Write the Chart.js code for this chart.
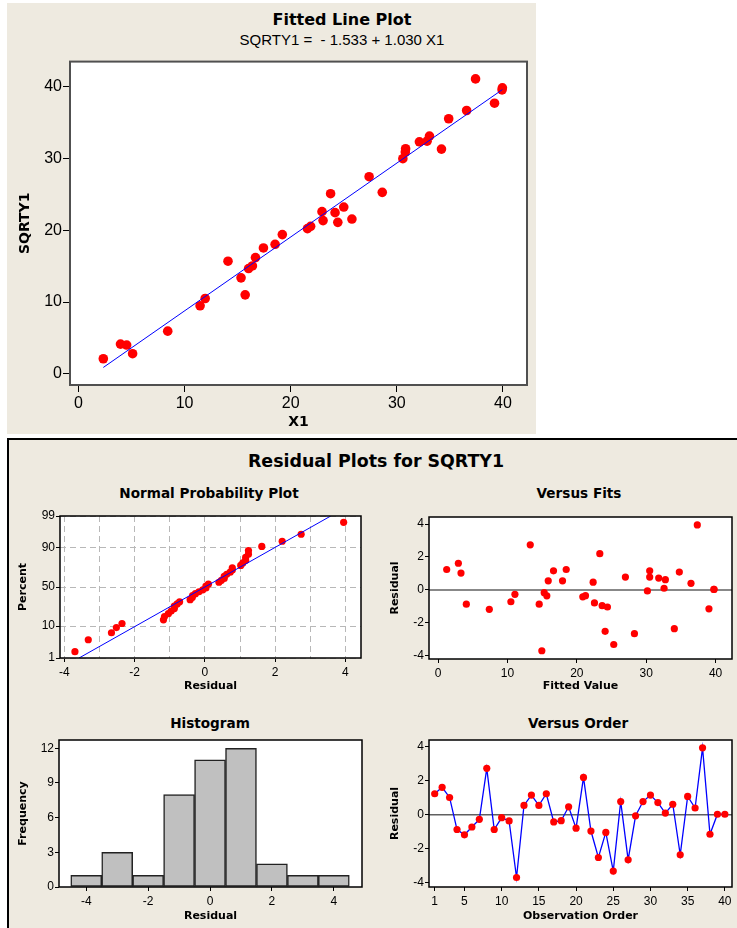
<!DOCTYPE html>
<html>
<head>
<meta charset="utf-8">
<script src="https://cdn.jsdelivr.net/npm/chart.js@4.4.0/dist/chart.umd.min.js"></script>
<style>
  body { margin: 0; background: #fff; }
  #page { position: relative; width: 737px; height: 928px; overflow: hidden; }
  .panel { position: absolute; background: #eeeae0; box-sizing: border-box; }
  .hd { position: absolute; white-space: pre; color: #000; line-height: 1; transform: translateX(-50%); }
  .bold { font-family: "DejaVu Sans", sans-serif; font-weight: bold; }
  .reg { font-family: "Liberation Sans", Arial, sans-serif; }
  canvas { position: absolute; }
</style>
</head>
<body>
<div id="page">
  <div class="panel" style="left:7px;top:3px;width:529px;height:431px;"></div>
  <div class="panel" style="left:7px;top:438px;width:730px;height:490px;border-top:2px solid #000;border-left:2px solid #000;"></div>

  <div class="hd bold" style="left:342px;top:12px;font-size:16px;">Fitted Line Plot</div>
  <div class="hd reg" style="left:342px;top:32px;font-size:15px;">SQRTY1 =  - 1.533 + 1.030 X1</div>
  <div class="hd bold" style="left:376px;top:453px;font-size:17.4px;">Residual Plots for SQRTY1</div>
  <div class="hd bold" style="left:209px;top:487px;font-size:13.6px;">Normal Probability Plot</div>
  <div class="hd bold" style="left:579px;top:487px;font-size:13.6px;">Versus Fits</div>
  <div class="hd bold" style="left:210px;top:717px;font-size:13.6px;">Histogram</div>
  <div class="hd bold" style="left:578px;top:717px;font-size:13.6px;">Versus Order</div>

  <canvas id="fitted"></canvas>
  <canvas id="npp"></canvas>
  <canvas id="vfits"></canvas>
  <canvas id="hist"></canvas>
  <canvas id="vorder"></canvas>
</div>

<script>
// regression: SQRTY1 = b0 + b1 * X1
const intercept = -1.533;
const slope = 1.030;

const x1Values = [2.34, 3.96, 4.54, 5.10, 8.41, 11.46, 11.94, 14.09, 15.32, 15.71,
  16.03, 16.39, 16.68, 17.43, 18.53, 19.21, 21.58, 21.88, 22.95, 23.05,
  23.76, 24.18, 24.44, 25.00, 25.77, 27.39, 28.63, 30.57, 30.80, 30.83,
  32.13, 32.85, 33.08, 34.21, 34.89, 36.58, 37.42, 39.21, 39.92, 39.95];
const sqrty1Values = [2.09, 4.13, 4.00, 2.79, 5.94, 9.47, 10.49, 15.69, 13.37, 11.00,
  14.67, 15.03, 16.20, 17.54, 18.05, 19.40, 20.23, 20.56, 22.60, 21.35,
  25.10, 22.46, 21.11, 23.24, 21.57, 27.47, 25.29, 29.98, 30.90, 31.37,
  32.34, 32.43, 33.13, 31.32, 35.55, 36.70, 41.11, 37.72, 39.58, 39.86];

// fitted values and residuals, in observation order
const fittedValues = [1.25, 2.93, 3.31, 4.08, 7.39, 10.50, 11.08, 13.29, 14.58, 15.30,
  15.68, 14.96, 15.88, 16.64, 17.94, 18.47, 20.86, 21.25, 22.35, 22.54,
  23.31, 23.65, 24.08, 24.41, 25.32, 27.00, 28.30, 30.17, 30.50, 30.50,
  31.80, 32.57, 32.76, 34.05, 34.77, 36.45, 37.36, 39.04, 39.76, 39.76];
const residuals = [1.24, 1.62, 1.02, -0.87, -1.18, -0.72, -0.27, 2.74, -0.87, -0.17,
  -0.36, -3.70, 0.55, 1.16, 0.55, 1.24, -0.42, -0.35, 0.47, -0.79,
  2.20, -0.96, -2.52, -1.04, -3.32, 0.78, -2.66, -0.06, 0.78, 1.16,
  0.72, 0.10, 0.62, -2.36, 1.08, 0.40, 3.95, -1.15, 0.03, 0.03];

// plotting positions (percent) for the sorted residuals
const nppPercents = [1.7, 4.2, 6.7, 9.2, 11.6, 14.1, 16.6, 19.1, 21.5, 24.0,
  26.5, 29.0, 31.4, 33.9, 36.4, 38.9, 41.3, 43.8, 46.3, 48.8,
  51.2, 53.7, 56.2, 58.7, 61.1, 63.6, 66.1, 68.6, 71.0, 73.5,
  76.0, 78.5, 80.9, 83.4, 85.9, 88.4, 90.8, 93.3, 95.8, 98.3];
const nppLineMean = 0;
const nppLineSd = 1.54;
const nppPercentTicks = [1, 10, 50, 90, 99];

const histCenters = [-4, -3, -2, -1, 0, 1, 2, 3, 4];
const histCounts = [1, 3, 1, 8, 11, 12, 2, 1, 1];

const REG = "'Liberation Sans', Arial, sans-serif";
const BOLD = "'DejaVu Sans', sans-serif";

// inverse standard normal CDF (Acklam)
function probit(p) {
  const a = [-39.69683028665376, 220.9460984245205, -275.9285104469687, 138.3577518672690, -30.66479806614716, 2.506628277459239];
  const b = [-54.47609879822406, 161.5858368580409, -155.6989798598866, 66.80131188771972, -13.28068155288572];
  const c = [-0.007784894002430293, -0.3223964580411365, -2.400758277161838, -2.549732539343734, 4.374664141464968, 2.938163982698783];
  const d = [0.007784695709041462, 0.3224671290700398, 2.445134137142996, 3.754408661907416];
  let q, r;
  if (p < 0.02425) {
    q = Math.sqrt(-2 * Math.log(p));
    return (((((c[0]*q+c[1])*q+c[2])*q+c[3])*q+c[4])*q+c[5]) / ((((d[0]*q+d[1])*q+d[2])*q+d[3])*q+1);
  }
  if (p > 1 - 0.02425) {
    q = Math.sqrt(-2 * Math.log(1 - p));
    return -(((((c[0]*q+c[1])*q+c[2])*q+c[3])*q+c[4])*q+c[5]) / ((((d[0]*q+d[1])*q+d[2])*q+d[3])*q+1);
  }
  q = p - 0.5; r = q * q;
  return (((((a[0]*r+a[1])*r+a[2])*r+a[3])*r+a[4])*r+a[5])*q / (((((b[0]*r+b[1])*r+b[2])*r+b[3])*r+b[4])*r+1);
}

// white plot area, boxed frame, optional zero reference line
const framePlugin = {
  id: 'frame',
  beforeDraw(chart) {
    const a = chart.chartArea, ctx = chart.ctx;
    ctx.save();
    ctx.fillStyle = '#fff';
    ctx.fillRect(a.left, a.top, a.right - a.left, a.bottom - a.top);
    ctx.restore();
  },
  beforeDatasetsDraw(chart, args, opts) {
    if (opts.zeroLine === undefined) return;
    const a = chart.chartArea, ctx = chart.ctx;
    const y = chart.scales.y.getPixelForValue(opts.zeroLine);
    ctx.save();
    ctx.strokeStyle = '#606060';
    ctx.lineWidth = 1.5;
    ctx.beginPath();
    ctx.moveTo(a.left, y);
    ctx.lineTo(a.right, y);
    ctx.stroke();
    ctx.restore();
  },
  afterDraw(chart, args, opts) {
    const a = chart.chartArea, ctx = chart.ctx;
    ctx.save();
    ctx.strokeStyle = opts.color || '#000';
    ctx.lineWidth = opts.width || 1.5;
    ctx.strokeRect(a.left, a.top, a.right - a.left, a.bottom - a.top);
    ctx.restore();
  }
};

function axis(min, max, tickValues, title, o) {
  return {
    type: 'linear', min: min, max: max,
    afterBuildTicks: s => { s.ticks = tickValues.map(v => ({ value: v })); },
    ticks: {
      autoSkip: false, maxRotation: 0, color: '#000', padding: o.pad,
      font: { family: REG, size: o.size },
      callback: o.label || (v => String(v))
    },
    grid: {
      drawOnChartArea: !!o.gridColor, color: o.gridColor || '#000',
      tickLength: o.tick, tickWidth: 1, tickColor: o.tickColor || '#000'
    },
    border: { display: false, dash: o.dash || [] },
    title: {
      display: true, text: title, color: '#000', padding: 0,
      font: { family: BOLD, weight: 'bold', size: o.titleSize }
    }
  };
}

function build(id, area, pad, cfg) {
  const c = document.getElementById(id);
  c.width = area.r - area.l + pad.l + pad.r;
  c.height = area.b - area.t + pad.t + pad.b;
  c.style.left = (area.l - pad.l) + 'px';
  c.style.top = (area.t - pad.t) + 'px';
  cfg.options.responsive = false;
  cfg.options.animation = false;
  cfg.options.events = [];
  cfg.options.layout = { padding: { top: pad.t, right: pad.r, left: 0, bottom: 0 } };
  cfg.options.plugins = Object.assign({ legend: { display: false }, tooltip: { enabled: false } }, cfg.options.plugins || {});
  cfg.options.scales.x.afterFit = s => { s.height = pad.b; };
  cfg.options.scales.y.afterFit = s => { s.width = pad.l; };
  cfg.plugins = [framePlugin];
  return new Chart(c, cfg);
}

// ---- Fitted line plot ----
const fitEnds = [x1Values[0], x1Values[x1Values.length - 1]];
build('fitted', { l: 70, t: 61, r: 527, b: 385 }, { l: 53, t: 10, r: 9, b: 46 }, {
  type: 'scatter',
  data: {
    datasets: [
      {
        type: 'line',
        data: fitEnds.map(x => ({ x: x, y: intercept + slope * x })),
        borderColor: '#0000ff', borderWidth: 1, pointRadius: 0
      },
      {
        data: x1Values.map((x, i) => ({ x: x, y: sqrty1Values[i] })),
        pointRadius: 4.8, pointBackgroundColor: '#ff0000', pointBorderWidth: 0
      }
    ]
  },
  options: {
    plugins: { frame: { color: '#505050', width: 2 } },
    scales: {
      x: axis(-0.80, 42.27, [0, 10, 20, 30, 40], 'X1', { size: 16, pad: 2, tick: 7, titleSize: 14 }),
      y: axis(-1.57, 43.52, [0, 10, 20, 30, 40], 'SQRTY1', { size: 16, pad: 1, tick: 7, titleSize: 14 })
    }
  }
});

// ---- Normal probability plot ----
const sortedResiduals = residuals.slice().sort((a, b) => a - b);
const zLo = probit(0.01), zHi = probit(0.99);
build('npp', { l: 60, t: 516, r: 361, b: 658 }, { l: 43, t: 10, r: 10, b: 35 }, {
  type: 'scatter',
  data: {
    datasets: [
      {
        type: 'line',
        data: [zLo, zHi].map(z => ({ x: nppLineMean + nppLineSd * z, y: z })),
        borderColor: '#0000ff', borderWidth: 1, pointRadius: 0
      },
      {
        data: sortedResiduals.map((r, i) => ({ x: r, y: probit(nppPercents[i] / 100) })),
        pointRadius: 3.6, pointBackgroundColor: '#ff0000', pointBorderWidth: 0
      }
    ]
  },
  options: {
    plugins: { frame: {} },
    scales: {
      x: axis(-4.125, 4.444, [-4, -3, -2, -1, 0, 1, 2, 3, 4], 'Residual', {
        size: 12, pad: 3, tick: 4, titleSize: 11, gridColor: '#b8b8b8', dash: [6, 4],
        label: v => (v % 2 === 0 ? String(v) : ''),
        tickColor: ctx => (ctx.tick && ctx.tick.value % 2 !== 0 ? 'rgba(0,0,0,0)' : '#000')
      }),
      y: axis(zLo, zHi, nppPercentTicks.map(p => probit(p / 100)), 'Percent', {
        size: 12, pad: 1, tick: 4, titleSize: 11, gridColor: '#b8b8b8', dash: [6, 4],
        label: (v, i) => String(nppPercentTicks[i])
      })
    }
  }
});

// ---- Versus fits ----
build('vfits', { l: 429, t: 517, r: 732, b: 659 }, { l: 40, t: 10, r: 5, b: 34 }, {
  type: 'scatter',
  data: {
    datasets: [{
      data: fittedValues.map((f, i) => ({ x: f, y: residuals[i] })),
      pointRadius: 3.6, pointBackgroundColor: '#ff0000', pointBorderWidth: 0
    }]
  },
  options: {
    plugins: { frame: { zeroLine: 0 } },
    scales: {
      x: axis(-1.30, 42.36, [0, 10, 20, 30, 40], 'Fitted Value', { size: 12, pad: 3, tick: 4, titleSize: 11 }),
      y: axis(-4.20, 4.43, [-4, -2, 0, 2, 4], 'Residual', { size: 12, pad: 1, tick: 4, titleSize: 11 })
    }
  }
});

// ---- Histogram ----
const histX = axis(-4.88, 4.91, [-4, -2, 0, 2, 4], 'Residual', { size: 12, pad: 3, tick: 4, titleSize: 11 });
histX.offset = false;
histX.grid.offset = false;
build('hist', { l: 59, t: 740, r: 362, b: 887 }, { l: 42, t: 10, r: 10, b: 36 }, {
  type: 'bar',
  data: {
    datasets: [{
      data: histCenters.map((c, i) => ({ x: c, y: histCounts[i] })),
      backgroundColor: '#c0c0c0', borderColor: '#222', borderWidth: 1.5,
      borderSkipped: false, barPercentage: 1, categoryPercentage: 1
    }]
  },
  options: {
    plugins: { frame: {} },
    scales: {
      x: histX,
      y: axis(0, 12.72, [0, 3, 6, 9, 12], 'Frequency', { size: 12, pad: 1, tick: 4, titleSize: 11 })
    }
  }
});

// ---- Versus order ----
build('vorder', { l: 429, t: 740, r: 732, b: 887 }, { l: 40, t: 10, r: 5, b: 36 }, {
  type: 'line',
  data: {
    datasets: [{
      data: residuals.map((r, i) => ({ x: i + 1, y: r })),
      borderColor: '#0000ff', borderWidth: 1.3, tension: 0,
      pointRadius: 3.6, pointBackgroundColor: '#ff0000', pointBorderWidth: 0
    }]
  },
  options: {
    plugins: { frame: { zeroLine: 0 } },
    scales: {
      x: axis(0.234, 40.96, [1, 5, 10, 15, 20, 25, 30, 35, 40], 'Observation Order', { size: 12, pad: 3, tick: 4, titleSize: 11 }),
      y: axis(-4.26, 4.41, [-4, -2, 0, 2, 4], 'Residual', { size: 12, pad: 1, tick: 4, titleSize: 11 })
    }
  }
});
</script>
</body>
</html>
